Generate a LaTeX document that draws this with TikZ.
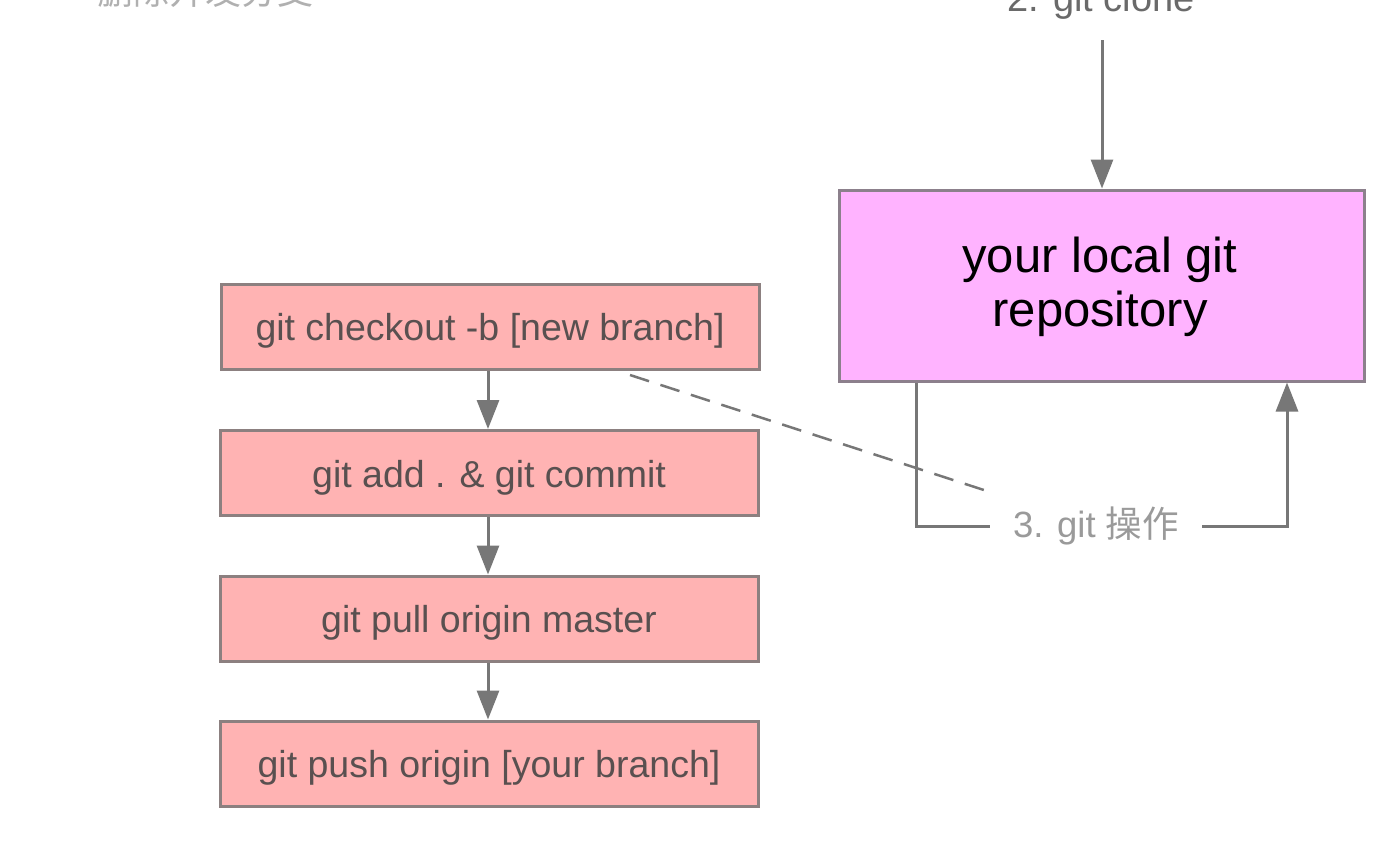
\documentclass[tikz,border=0pt]{standalone}
\usepackage{fontspec}
\setmainfont{Liberation Sans}
\newfontfamily\cjk{Noto Sans CJK SC}
\usetikzlibrary{arrows.meta}
\definecolor{boxfill}{HTML}{FFB3B3}
\definecolor{boxline}{HTML}{8C8080}
\definecolor{repofill}{HTML}{FFB3FF}
\definecolor{repoline}{HTML}{8C808C}
\definecolor{arrowgray}{HTML}{777777}
\definecolor{boxtext}{HTML}{595050}
\definecolor{optext}{HTML}{9A9A9A}
\definecolor{toptext}{HTML}{6A6A6A}
\definecolor{faint}{HTML}{B0B0B0}
\tikzset{
  stepbox/.style={draw=boxline, fill=boxfill, line width=3pt, minimum width=538pt, minimum height=85pt, inner sep=0pt, text height=28pt, text depth=0pt, text=boxtext, font=\fontsize{37.5}{40}\selectfont},
  repobox/.style={draw=repoline, fill=repofill, line width=3pt, minimum width=525pt, minimum height=191pt, inner sep=0pt, text=black, align=center, font=\fontsize{49}{53}\selectfont},
  conn/.style={draw=arrowgray, line width=3pt},
  arr/.style={conn, -{Triangle[width=22pt,length=29pt]}},
}
\begin{document}
\begin{tikzpicture}[x=1pt,y=-1pt]
\clip (0,0) rectangle (1400,849);
\fill[white] (0,0) rectangle (1400,849);
% cut-off texts at the top
\node[anchor=base, text=faint, font=\cjk\fontsize{36}{40}\selectfont, inner sep=0pt] (del) at (205,4) {删除开发分支};
\node[anchor=base, text=toptext, font=\fontsize{38}{42}\selectfont, inner sep=0pt] (clone) at (1101,11) {2. git clone};
% boxes
\node[stepbox] (b1) at (490,326.5) {git checkout -b [new branch]};
\node[stepbox] (b2) at (489,473) {git add . \& git commit};
\node[stepbox] (b3) at (489,618.5) {git pull origin master};
\node[stepbox] (b4) at (489,763.5) {git push origin [your branch]};
\node[repobox] (repo) at (1101.5,285.5) {};
\node[text=black, font=\fontsize{49}{53}\selectfont, anchor=base, inner sep=0pt] (repoA) at (1100,272) {your local git};
\node[text=black, font=\fontsize{49}{53}\selectfont, anchor=base, inner sep=0pt] (repoB) at (1100,326) {repository};
% arrows between steps
\draw[arr] (b1.south -| 488,0) -- (b2.north -| 488,0);
\draw[arr] (b2.south -| 488,0) -- (b3.north -| 488,0);
\draw[arr] (b3.south -| 488,0) -- (b4.north -| 488,0);
% clone arrow
\coordinate (cloneTop) at (1102,40);
\draw[arr] (cloneTop) -- (cloneTop |- repo.north);
% git operations loop
\coordinate (loopL) at (916,526);
\coordinate (loopR) at (1287,526);
\node[anchor=base, text=optext, font=\fontsize{36.5}{40}\selectfont, inner xsep=23pt, inner ysep=0pt] (op) at (1096,537) {3. git {\cjk 操作}};
\draw[conn] (repo.south -| loopL) -- (loopL) -- (loopL -| op.west);
\draw[arr] (loopL -| op.east) -- (loopR) -- (loopR |- repo.south);
% dashed link
\coordinate (dashA) at (630,375);
\coordinate (dashB) at (990,492);
\draw[draw=arrowgray, line width=2.5pt, dash pattern=on 20pt off 12pt] (dashA) -- (dashB);
\end{tikzpicture}
\end{document}
